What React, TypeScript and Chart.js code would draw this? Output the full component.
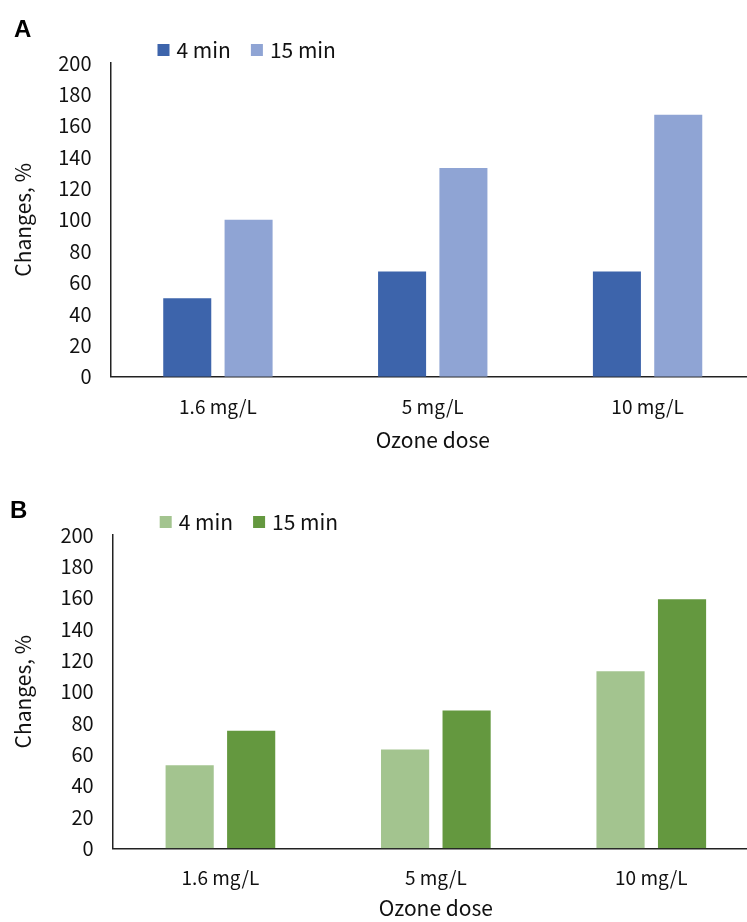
import React, { useEffect, useRef } from "react";
import { Chart, registerables } from "chart.js";

Chart.register(...registerables);

// ---- data ----
const categories = ["1.6 mg/L", "5 mg/L", "10 mg/L"];
const seriesLabels = ["4 min", "15 min"];
const panelA4min = [50, 67, 67];
const panelA15min = [100, 133, 167];
const panelB4min = [53, 63, 113];
const panelB15min = [75, 88, 159];
const yMin = 0;
const yMax = 200;
const yStep = 20;
const xTitle = "Ozone dose";
const yTitle = "Changes, %";
const panelLetters = ["A", "B"];

const FONT = '"Noto Sans CJK KR", "Noto Sans", sans-serif';
const TEXT = "#111";

const overlayPlugin = {
  id: "overlay",
  afterDraw(chart: any, _args: any, opts: any) {
    const ctx = chart.ctx;
    const { left, top } = chart.chartArea;
    ctx.save();
    ctx.textBaseline = "middle";
    ctx.textAlign = "left";
    ctx.fillStyle = "#000";
    ctx.font = 'bold 24px "Liberation Sans", Arial, sans-serif';
    ctx.fillText(opts.letter, opts.letterX, opts.letterY);
    ctx.font = `21px ${FONT}`;
    let x = left + opts.legendDx;
    const y = top - opts.legendDy;
    chart.data.datasets.forEach((ds: any) => {
      ctx.fillStyle = ds.backgroundColor;
      ctx.fillRect(x, y - 6, 12, 12);
      ctx.fillStyle = TEXT;
      ctx.fillText(ds.label, x + 19, y);
      x += 19 + ctx.measureText(ds.label).width + 20;
    });
    ctx.restore();
  },
};

type Panel = {
  letter: string;
  d1: number[];
  d2: number[];
  c1: string;
  c2: string;
  canvasTop: number;
  height: number;
  axisLeft: number;
  areaTop: number;
  padRight: number;
  xAxisH: number;
  tickPad: number;
  titlePadBottom: number;
  letterX: number;
  letterY: number;
};

const W = 780;

function BarPanel({ p }: { p: Panel }) {
  const ref = useRef<HTMLCanvasElement | null>(null);
  useEffect(() => {
    if (!ref.current) return;
    const chart = new Chart(ref.current, {
      type: "bar",
      data: {
        labels: categories,
        datasets: [
          { label: seriesLabels[0], data: p.d1, backgroundColor: p.c1, borderWidth: 0, categoryPercentage: 0.571, barPercentage: 0.783 },
          { label: seriesLabels[1], data: p.d2, backgroundColor: p.c2, borderWidth: 0, categoryPercentage: 0.571, barPercentage: 0.783 },
        ],
      },
      options: {
        responsive: false,
        animation: false,
        events: [],
        layout: { padding: { top: p.areaTop, left: 0, right: p.padRight, bottom: 0 } },
        plugins: {
          legend: { display: false },
          tooltip: { enabled: false },
          overlay: {
            letter: p.letter,
            letterX: p.letterX,
            letterY: p.letterY,
            legendDx: 47,
            legendDy: 13,
          },
        } as any,
        scales: {
          x: {
            grid: { display: false, drawTicks: false },
            border: { display: true, color: "#222", width: 1.5 },
            ticks: { color: TEXT, font: { family: FONT, size: 19 }, padding: p.tickPad, maxRotation: 0 },
            title: {
              display: true,
              text: xTitle,
              color: TEXT,
              font: { family: FONT, size: 21 },
              padding: { top: 0, bottom: p.titlePadBottom },
            },
            afterFit: (s: any) => {
              s.height = p.xAxisH;
            },
          },
          y: {
            min: yMin,
            max: yMax,
            grid: { display: false, drawTicks: false },
            border: { display: true, color: "#222", width: 1.5 },
            ticks: { stepSize: yStep, color: TEXT, font: { family: FONT, size: 20 }, padding: 19 },
            title: {
              display: true,
              text: yTitle,
              color: TEXT,
              font: { family: FONT, size: 21 },
              padding: { top: 10, bottom: 0 },
            },
            afterFit: (s: any) => {
              s.width = p.axisLeft;
            },
          },
        },
      },
      plugins: [overlayPlugin],
    });
    return () => chart.destroy();
  }, [p]);
  return (
    <canvas
      ref={ref}
      width={W}
      height={p.height}
      style={{ position: "absolute", left: 0, top: p.canvasTop, width: W, height: p.height }}
    />
  );
}

const panels: Panel[] = [
  {
    letter: panelLetters[0],
    d1: panelA4min,
    d2: panelA15min,
    c1: "#3D64AB",
    c2: "#8FA4D4",
    canvasTop: 0,
    height: 470,
    axisLeft: 110.5,
    areaTop: 63,
    padRight: 25,
    xAxisH: 93.3,
    tickPad: 19,
    titlePadBottom: 17,
    letterX: 14,
    letterY: 30,
  },
  {
    letter: panelLetters[1],
    d1: panelB4min,
    d2: panelB15min,
    c1: "#A3C48F",
    c2: "#64983F",
    canvasTop: 470,
    height: 452,
    axisLeft: 112.7,
    areaTop: 65,
    padRight: 21,
    xAxisH: 73.7,
    tickPad: 18,
    titlePadBottom: 1,
    letterX: 10,
    letterY: 41,
  },
];

export default function App() {
  useEffect(() => {
    document.body.style.margin = "0";
  }, []);
  return (
    <div style={{ position: "relative", width: 747, height: 922, overflow: "hidden", background: "#fff" }}>
      {panels.map((p) => (
        <BarPanel key={p.letter} p={p} />
      ))}
    </div>
  );
}
